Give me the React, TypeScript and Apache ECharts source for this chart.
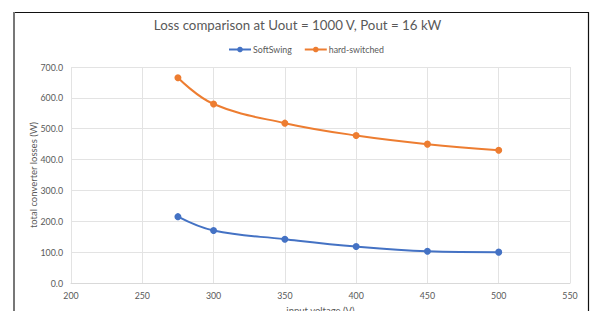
import React, { useEffect, useRef } from "react";
import * as echarts from "echarts";

const titleText = "Loss comparison at Uout = 1000 V, Pout = 16 kW";
const xName = "input voltage (V)";
const yName = "total converter losses (W)";
const voltages = [275, 300, 350, 400, 450, 500];
const softSwing = [215, 170, 142, 118, 103, 100];
const hardSwitched = [665, 580, 518, 478, 450, 430];
const seriesNames = ["SoftSwing", "hard-switched"];
const colors = ["#4472C4", "#ED7D31"];

const FONT = "Lato, 'Open Sans', sans-serif";

export default function App() {
  const ref = useRef<HTMLDivElement>(null);
  useEffect(() => {
    if (!ref.current) return;
    const chart = echarts.init(ref.current, undefined, { renderer: "svg" });
    const mk = (arr: number[]) => voltages.map((v, i) => [v, arr[i]]);
    chart.setOption({
      animation: false,
      backgroundColor: "#ffffff",
      title: {
        text: titleText,
        left: "center",
        top: 13,
        textStyle: { fontFamily: FONT, fontSize: 13.3, fontWeight: "normal", color: "#595959" },
      },
      legend: {
        top: 40,
        left: 223,
        itemWidth: 22,
        itemHeight: 7,
        itemGap: 12,
        textStyle: { fontFamily: FONT, fontSize: 8.8, color: "#595959", padding: [0, 0, 0, -3] },
        data: seriesNames,
      },
      grid: { left: 71, right: 25, top: 67, bottom: 28, containLabel: false, outerBoundsMode: "none" },
      xAxis: {
        type: "value",
        min: 200,
        max: 550,
        interval: 50,
        name: xName,
        nameLocation: "middle",
        nameGap: 22,
        nameMoveOverlap: false,
        nameTextStyle: { fontFamily: FONT, fontSize: 9.5, color: "#595959" },
        axisLine: { show: true, lineStyle: { color: "#d9d9d9" } },
        axisTick: { show: false },
        axisLabel: { fontFamily: FONT, fontSize: 8.8, color: "#595959", margin: 8 },
        splitLine: { show: true, lineStyle: { color: "#e3e3e3" } },
      },
      yAxis: {
        type: "value",
        min: 0,
        max: 700,
        interval: 100,
        name: yName,
        nameLocation: "middle",
        nameGap: 33,
        nameMoveOverlap: false,
        nameTextStyle: { fontFamily: FONT, fontSize: 9.5, color: "#595959" },
        axisLine: { show: false },
        axisTick: { show: false },
        axisLabel: {
          fontFamily: FONT,
          fontSize: 8.8,
          color: "#595959",
          margin: 8,
          formatter: (v: number) => v.toFixed(1),
        },
        splitLine: { show: true, lineStyle: { color: "#e3e3e3" } },
      },
      series: [
        {
          name: seriesNames[0],
          type: "line",
          data: mk(softSwing),
          smooth: 0.4,
          symbol: "circle",
          symbolSize: 7,
          lineStyle: { color: colors[0], width: 2 },
          itemStyle: { color: colors[0] },
        },
        {
          name: seriesNames[1],
          type: "line",
          data: mk(hardSwitched),
          smooth: 0.4,
          symbol: "circle",
          symbolSize: 7,
          lineStyle: { color: colors[1], width: 2 },
          itemStyle: { color: colors[1] },
        },
      ],
      graphic: [
        { type: "line", shape: { x1: 13, y1: 12.5, x2: 588, y2: 12.5 }, style: { stroke: "#111", lineWidth: 1 } },
        { type: "line", shape: { x1: 588.5, y1: 12, x2: 588.5, y2: 311 }, style: { stroke: "#111", lineWidth: 1.2 } },
        { type: "line", shape: { x1: 14, y1: 12, x2: 14, y2: 311 }, style: { stroke: "#777", lineWidth: 2 } },
      ],
    });
    return () => chart.dispose();
  }, []);
  return (
    <div
      ref={ref}
      style={{ position: "absolute", left: 0, top: 0, width: 595, height: 311 }}
    />
  );
}
